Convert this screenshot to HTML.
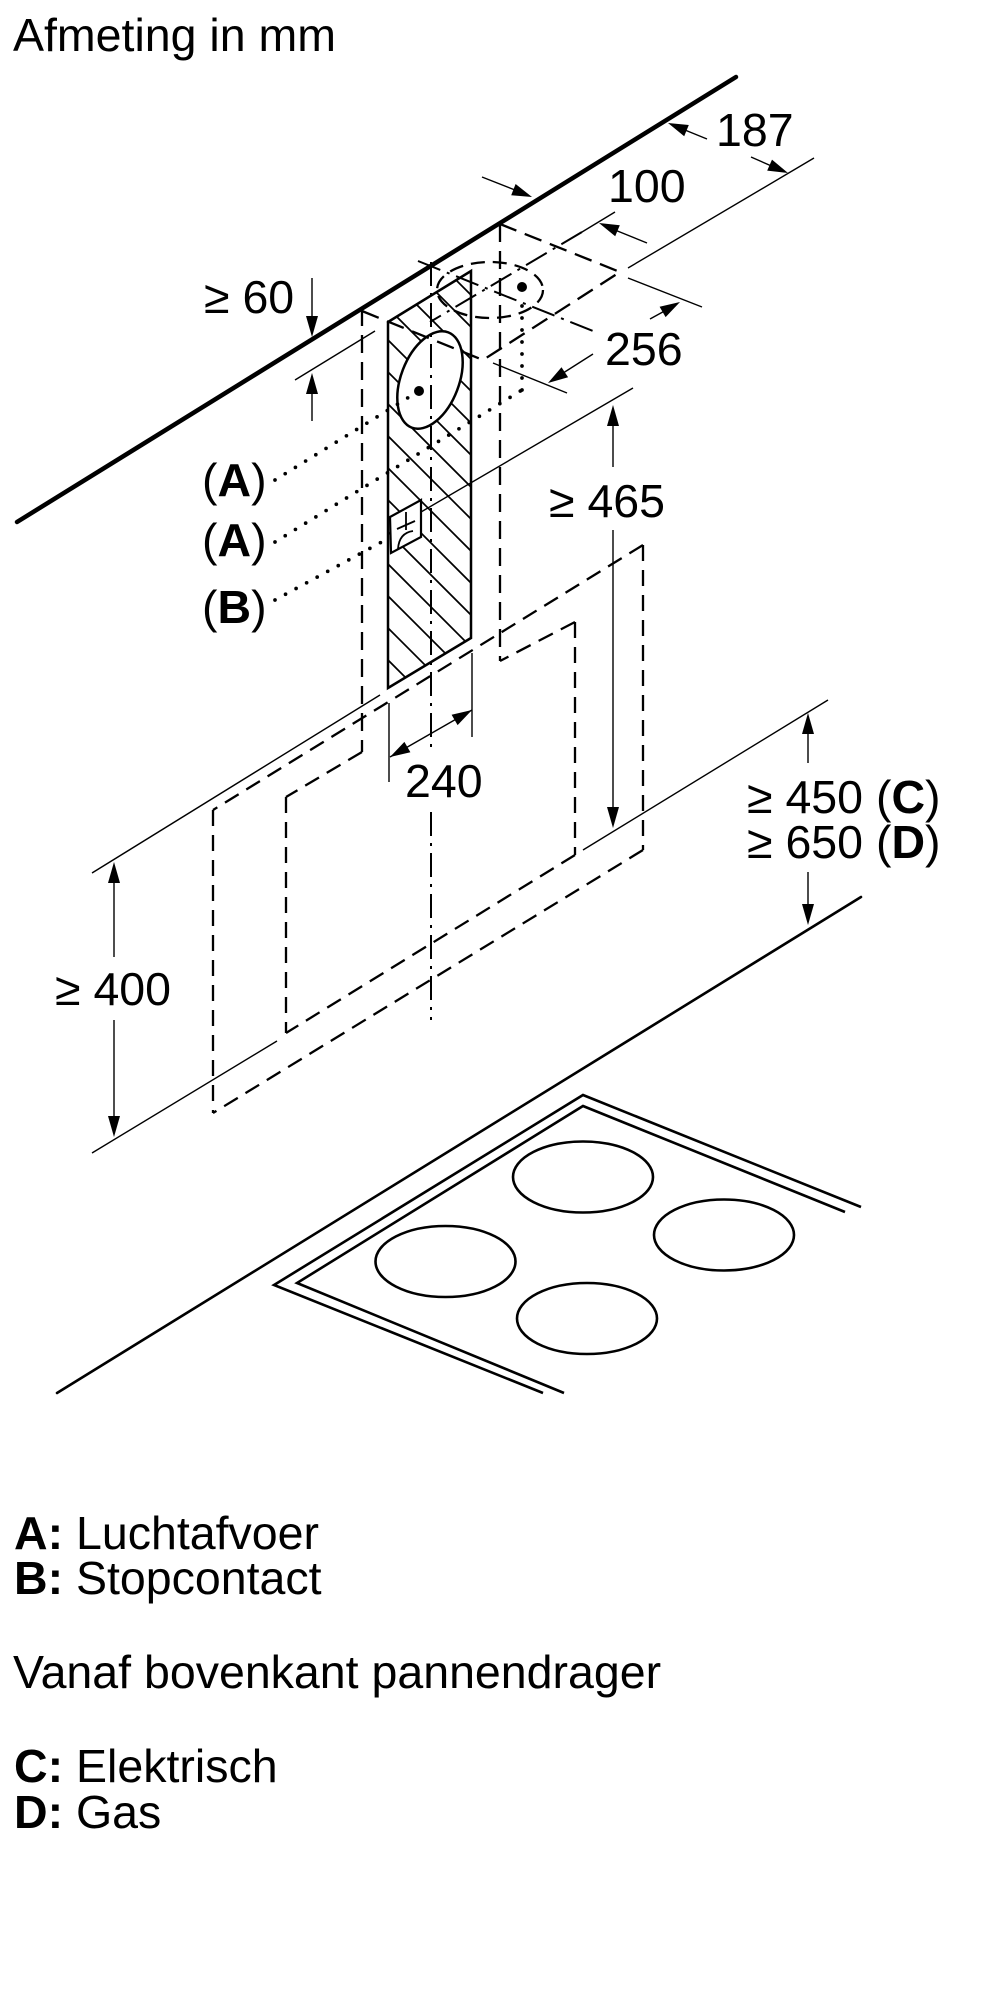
<!DOCTYPE html>
<html>
<head>
<meta charset="utf-8">
<style>
  html, body { margin: 0; padding: 0; background: #fff; }
  body { width: 1000px; height: 2000px; overflow: hidden; }
  svg { display: block; }
  text { font-family: "Liberation Sans", Arial, sans-serif; font-size: 46.5px; fill: #000; }
</style>
</head>
<body>
<svg width="1000" height="2000" viewBox="0 0 1000 2000" xmlns="http://www.w3.org/2000/svg">
  <defs>
    <clipPath id="hclip">
      <polygon points="388,322 471,271 471,638 388,688"/>
    </clipPath>
  </defs>

  <!-- Title -->
  <text x="13" y="51">Afmeting in mm</text>

  <!-- Wall/ceiling line -->
  <line x1="17" y1="522" x2="736" y2="77" stroke="#000" stroke-width="4.5" stroke-linecap="round"/>

  <!-- Hatched wall area -->
  <g clip-path="url(#hclip)" stroke="#000" stroke-width="1.7">
    <line x1="370" y1="194" x2="490" y2="314"/>
    <line x1="370" y1="226" x2="490" y2="346"/>
    <line x1="370" y1="258" x2="490" y2="378"/>
    <line x1="370" y1="290" x2="490" y2="410"/>
    <line x1="370" y1="322" x2="490" y2="442"/>
    <line x1="370" y1="354" x2="490" y2="474"/>
    <line x1="370" y1="386" x2="490" y2="506"/>
    <line x1="370" y1="418" x2="490" y2="538"/>
    <line x1="370" y1="450" x2="490" y2="570"/>
    <line x1="370" y1="482" x2="490" y2="602"/>
    <line x1="370" y1="514" x2="490" y2="634"/>
    <line x1="370" y1="546" x2="490" y2="666"/>
    <line x1="370" y1="578" x2="490" y2="698"/>
    <line x1="370" y1="610" x2="490" y2="730"/>
    <line x1="370" y1="642" x2="490" y2="762"/>
  </g>
  <polygon points="388,322 471,271 471,638 388,688" fill="none" stroke="#000" stroke-width="2.5" stroke-linejoin="miter"/>

  <!-- Outlet ellipse A (white filled) -->
  <ellipse cx="430" cy="380" rx="51" ry="29" transform="rotate(-69 430 380)" fill="#fff" stroke="#000" stroke-width="2.5"/>
  <circle cx="419" cy="391" r="5" fill="#000"/>

  <!-- Socket B -->
  <polygon points="390,517 421,500 421,537 391,553" fill="#fff" stroke="#000" stroke-width="2.2"/>
  <path d="M406,512 L406,530 M397,529 L415,521 M398,549 Q399,533 413,531" fill="none" stroke="#000" stroke-width="1.8"/>

  <!-- Chimney dashed verticals -->
  <g stroke="#000" stroke-width="2.3" fill="none" stroke-dasharray="18 9">
    <line x1="362" y1="308" x2="362" y2="752"/>
    <line x1="500" y1="224" x2="500" y2="661"/>
    <!-- ceiling outline -->
    <polyline points="362,311 483,360 620,272 500,224"/>
  </g>

  <!-- Dashed ellipse on ceiling -->
  <ellipse cx="490" cy="290" rx="53" ry="28" fill="none" stroke="#000" stroke-width="2.3" stroke-dasharray="14 8"/>
  <circle cx="522" cy="287" r="5" fill="#000"/>

  <!-- Hood dashed outlines -->
  <g stroke="#000" stroke-width="2.3" fill="none" stroke-dasharray="16 9">
    <!-- outer -->
    <line x1="643" y1="545" x2="213" y2="810"/>
    <line x1="643" y1="545" x2="643" y2="850"/>
    <line x1="643" y1="850" x2="213" y2="1113"/>
    <line x1="213" y1="810" x2="213" y2="1113"/>
    <!-- inner -->
    <line x1="575" y1="622" x2="500" y2="661"/>
    <line x1="362" y1="752" x2="286" y2="797"/>
    <line x1="575" y1="622" x2="575" y2="855"/>
    <line x1="575" y1="855" x2="286" y2="1033"/>
    <line x1="286" y1="797" x2="286" y2="1033"/>
  </g>

  <!-- Dash-dot center lines -->
  <g stroke="#000" stroke-width="2" fill="none" stroke-dasharray="24 7 3 7">
    <line x1="431" y1="262" x2="431" y2="748"/>
    <line x1="431" y1="812" x2="431" y2="1020"/>
    <line x1="418" y1="261" x2="593" y2="331"/>
    <line x1="582" y1="232" x2="430" y2="322"/>
  </g>

  <!-- Dotted leaders -->
  <g stroke="#000" stroke-width="3.7" fill="none" stroke-linecap="round" stroke-dasharray="0 12">
    <line x1="275" y1="480" x2="414" y2="394"/>
    <line x1="275" y1="542" x2="522" y2="390"/>
    <line x1="522" y1="390" x2="522" y2="298"/>
    <line x1="275" y1="600" x2="389" y2="538"/>
  </g>

  <!-- Thin extension / dimension lines -->
  <g stroke="#000" stroke-width="1.4" fill="none">
    <line x1="295" y1="380" x2="375" y2="331"/>
    <line x1="628" y1="268" x2="814" y2="158"/>
    <line x1="582" y1="232" x2="615" y2="212"/>
    <line x1="628" y1="278" x2="702" y2="307"/>
    <line x1="493" y1="363" x2="567" y2="393"/>
    <line x1="421" y1="512" x2="633" y2="388"/>
    <line x1="583" y1="850" x2="828" y2="700"/>
    <line x1="92" y1="873" x2="380" y2="695"/>
    <line x1="92" y1="1153" x2="277" y2="1041"/>
    <line x1="389" y1="703" x2="389" y2="782"/>
    <line x1="472" y1="653" x2="472" y2="737"/>
    <line x1="390" y1="757" x2="472" y2="710"/>
    <!-- arrow shafts -->
    <line x1="312" y1="278" x2="312" y2="330"/>
    <line x1="312" y1="380" x2="312" y2="421"/>
    <line x1="482" y1="177" x2="520" y2="192"/>
    <line x1="647" y1="243" x2="610" y2="228"/>
    <line x1="707" y1="139" x2="680" y2="128"/>
    <line x1="751" y1="157" x2="776" y2="168"/>
    <line x1="650" y1="319" x2="670" y2="308"/>
    <line x1="593" y1="354" x2="560" y2="375"/>
    <line x1="613" y1="415" x2="613" y2="467"/>
    <line x1="613" y1="530" x2="613" y2="815"/>
    <line x1="114" y1="872" x2="114" y2="957"/>
    <line x1="114" y1="1020" x2="114" y2="1125"/>
    <line x1="808" y1="723" x2="808" y2="763"/>
    <line x1="808" y1="872" x2="808" y2="912"/>
  </g>

  <!-- Arrowheads -->
  <g fill="#000" stroke="none">
    <polygon points="312,337 306,316 318,316"/>
    <polygon points="312,373 306,394 318,394"/>
    <polygon points="532,197 511.2,195.2 515.6,184.0"/>
    <polygon points="599,223 619.8,225.2 615.2,236.2"/>
    <polygon points="668,123 688.8,125.0 684.2,136.2"/>
    <polygon points="788,173 767.2,170.6 772.0,159.6"/>
    <polygon points="680,302 665.6,317.1 659.6,306.7"/>
    <polygon points="548,383 568.1,377.2 561.5,367.2"/>
    <polygon points="613,405 607,426 619,426"/>
    <polygon points="613,828 607,807 619,807"/>
    <polygon points="390,757 410.4,752.3 404.4,741.9"/>
    <polygon points="472,710 457.6,725.1 451.6,714.7"/>
    <polygon points="114,862 108,883 120,883"/>
    <polygon points="114,1137 108,1116 120,1116"/>
    <polygon points="808,713 802,734 814,734"/>
    <polygon points="808,925 802,904 814,904"/>
  </g>

  <!-- Countertop edge -->
  <line x1="57" y1="1393" x2="861" y2="897" stroke="#000" stroke-width="2.6" stroke-linecap="round"/>

  <!-- Hob outlines -->
  <g stroke="#000" stroke-width="2.6" fill="none" stroke-linejoin="miter">
    <polyline points="543,1393 274,1285 583,1095 861,1207"/>
    <polyline points="564,1393 297,1283 583,1106 845,1212"/>
    <ellipse cx="583" cy="1177" rx="70" ry="35.5"/>
    <ellipse cx="724" cy="1235" rx="70" ry="35.5"/>
    <ellipse cx="445.5" cy="1261.5" rx="70" ry="35.5"/>
    <ellipse cx="587" cy="1318.5" rx="70" ry="35.5"/>
  </g>

  <!-- Dimension texts -->
  <text x="204" y="313">≥ 60</text>
  <text x="716" y="146">187</text>
  <text x="608" y="202">100</text>
  <text x="605" y="365">256</text>
  <text x="549" y="517">≥ 465</text>
  <text x="405" y="797">240</text>
  <text x="747" y="813">≥ 450 (<tspan font-weight="bold">C</tspan>)</text>
  <text x="747" y="858">≥ 650 (<tspan font-weight="bold">D</tspan>)</text>
  <text x="55" y="1005">≥ 400</text>

  <!-- Labels -->
  <text x="202" y="496">(<tspan font-weight="bold">A</tspan>)</text>
  <text x="202" y="556">(<tspan font-weight="bold">A</tspan>)</text>
  <text x="202" y="623">(<tspan font-weight="bold">B</tspan>)</text>

  <!-- Legend -->
  <text x="14" y="1549"><tspan font-weight="bold">A:</tspan> Luchtafvoer</text>
  <text x="14" y="1594"><tspan font-weight="bold">B:</tspan> Stopcontact</text>
  <text x="13" y="1688">Vanaf bovenkant pannendrager</text>
  <text x="14" y="1782"><tspan font-weight="bold">C:</tspan> Elektrisch</text>
  <text x="14" y="1828"><tspan font-weight="bold">D:</tspan> Gas</text>
</svg>
</body>
</html>
